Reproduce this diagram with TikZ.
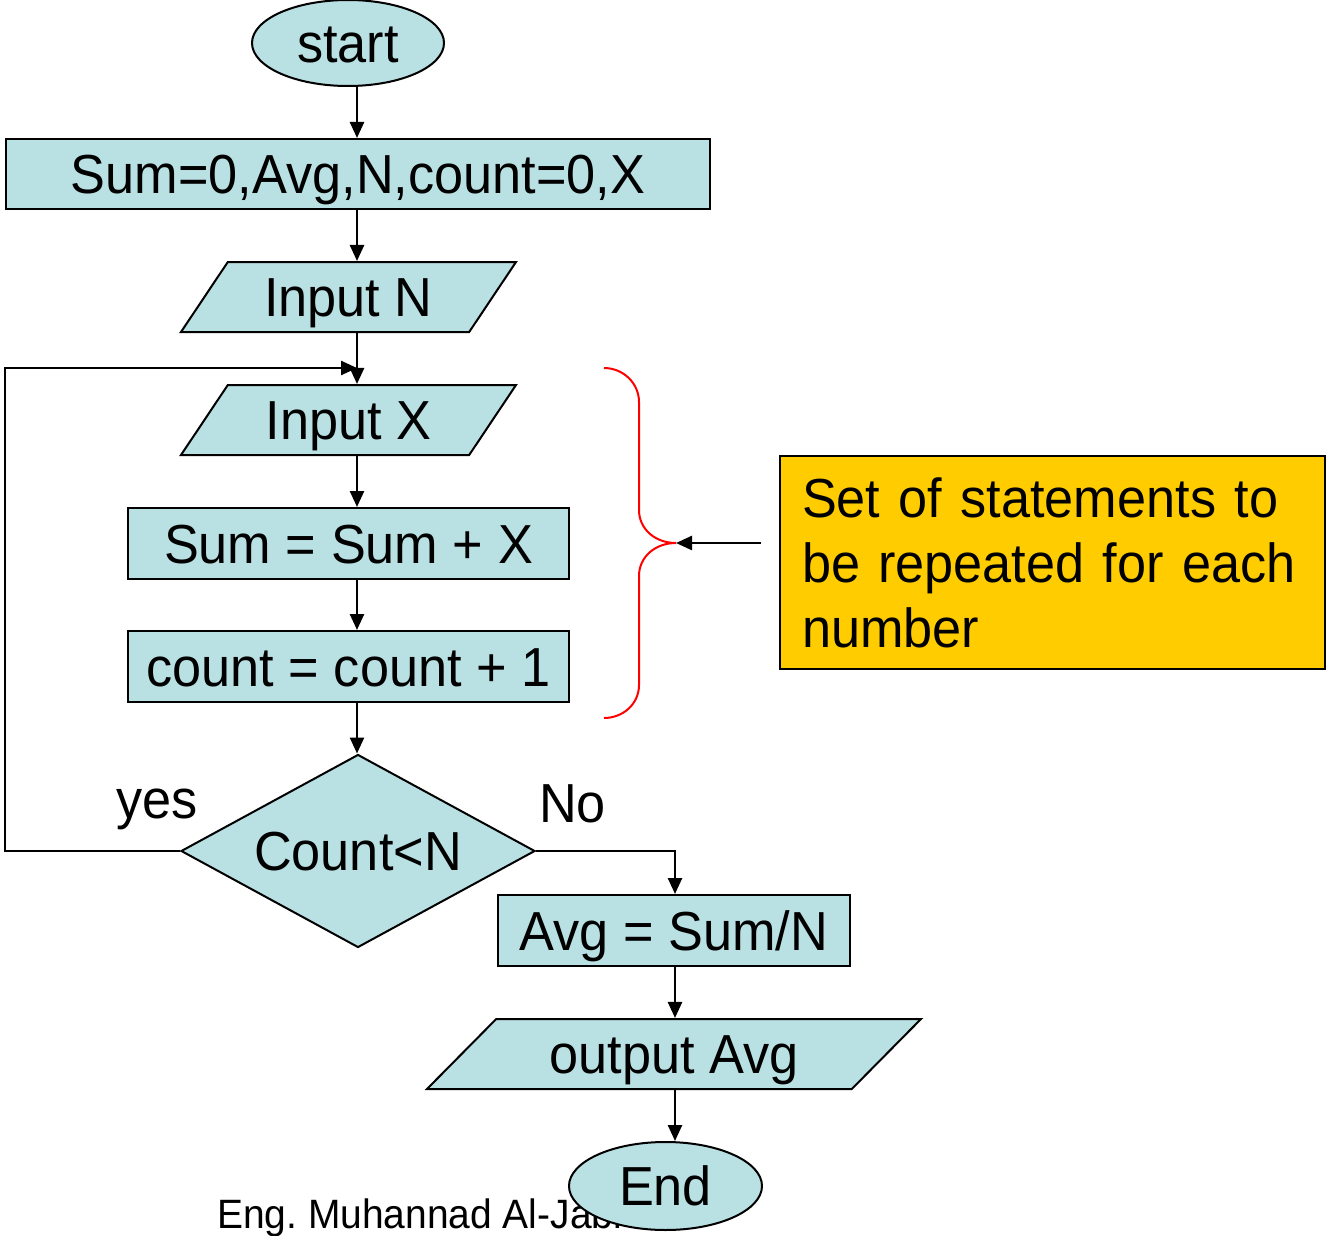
\documentclass[tikz,border=0pt]{standalone}
\usepackage{fontspec}
\setmainfont{Liberation Sans}[FakeStretch=0.95]
\usetikzlibrary{shapes.geometric,arrows.meta}
\definecolor{flowfill}{RGB}{185,224,227}
\definecolor{notefill}{RGB}{255,204,0}
\frenchspacing

\begin{document}
\begin{tikzpicture}[x=1pt,y=-1pt,
  every node/.style={font=\fontsize{55}{65}\selectfont, inner sep=0pt},
  box/.style={draw, line width=2pt, fill=flowfill, text height=39pt, text depth=0pt},
  term/.style={box, ellipse},
  io/.style={box, trapezium, trapezium stretches body, minimum height=70pt},
  arrow/.style={line width=2.5pt, -{Triangle[length=16pt,width=14pt]}}]
\useasboundingbox (0,0) rectangle (1326,1236);

\coordinate (colL) at (357,0);
\coordinate (colR) at (675,0);
\coordinate (merge) at (357,368);
\coordinate (tip) at (676,543);

% flow chart
\node (start) [term, minimum width=192pt, minimum height=86pt] at (348,43) {start};
\node (init) [box, minimum width=704pt, minimum height=70pt] at (358,174) {Sum=0,Avg,N,count=0,X};
\node (inN) [io, trapezium left angle=39.8, trapezium right angle=140.2, minimum width=335pt] at (348.5,297) {Input N};
\node (inX) [io, trapezium left angle=39.8, trapezium right angle=140.2, minimum width=335pt] at (348.5,420) {Input X};
\node (addX) [box, minimum width=441pt, minimum height=71pt] at (348.5,543.5) {Sum = Sum + X};
\node (incr) [box, minimum width=441pt, minimum height=71pt] at (348.5,666.5) {count = count + 1};
\node (test) [box, diamond, aspect=1.83, minimum width=354pt, minimum height=193pt] at (358,851) {Count<N};
\node (avg) [box, minimum width=352pt, minimum height=71pt] at (674,930.5) {Avg = Sum/N};
\node (out) [io, trapezium left angle=29.4, trapezium right angle=150.6, minimum width=494pt] at (674,1054) {output Avg};
\node (credit) [anchor=base west, font=\fontsize{41}{48}\selectfont] at (217,1228) {Eng. Muhannad Al-Jabi};
\node (end) [term, minimum width=193pt, minimum height=88pt] at (665.5,1186) {End};

\node (yes) [anchor=base west] at (116,818) {yes};
\node (no) [anchor=base west] at (539,822) {No};

\draw [arrow] (colL |- start.south) -- (colL |- init.north);
\draw [arrow] (colL |- init.south) -- (colL |- inN.north);
\draw [arrow] (colL |- inN.south) -- (colL |- inX.north);
\draw [arrow] (colL |- inX.south) -- (colL |- addX.north);
\draw [arrow] (colL |- addX.south) -- (colL |- incr.north);
\draw [arrow] (colL |- incr.south) -- (colL |- test.north);
\draw [arrow] (test.west) -- ++(-175,0) |- (merge);
\draw [arrow] (test.east) -| (colR |- avg.north);
\draw [arrow] (colR |- avg.south) -- (colR |- out.north);
\draw [arrow] (colR |- out.south) -- (colR |- end.north);

% the brace and its note
\node (note) [draw, line width=2pt, fill=notefill, text width=501pt, inner xsep=22pt, minimum height=213pt, align=left] at (1052.5,562.5) {Set of statements to\\ be repeated for each\\ number};
\draw [red, line width=2pt] (604,368) .. controls (623,368) and (639,383) .. (639,402) -- (639,510)
  .. controls (639,529) and (655,543) .. (tip) .. controls (655,543) and (639,557) .. (639,576)
  -- (639,685) .. controls (639,704) and (623,718) .. (604,718);
\draw [arrow] ([xshift=-18pt]note.west |- tip) -- (tip);
\end{tikzpicture}
\end{document}
